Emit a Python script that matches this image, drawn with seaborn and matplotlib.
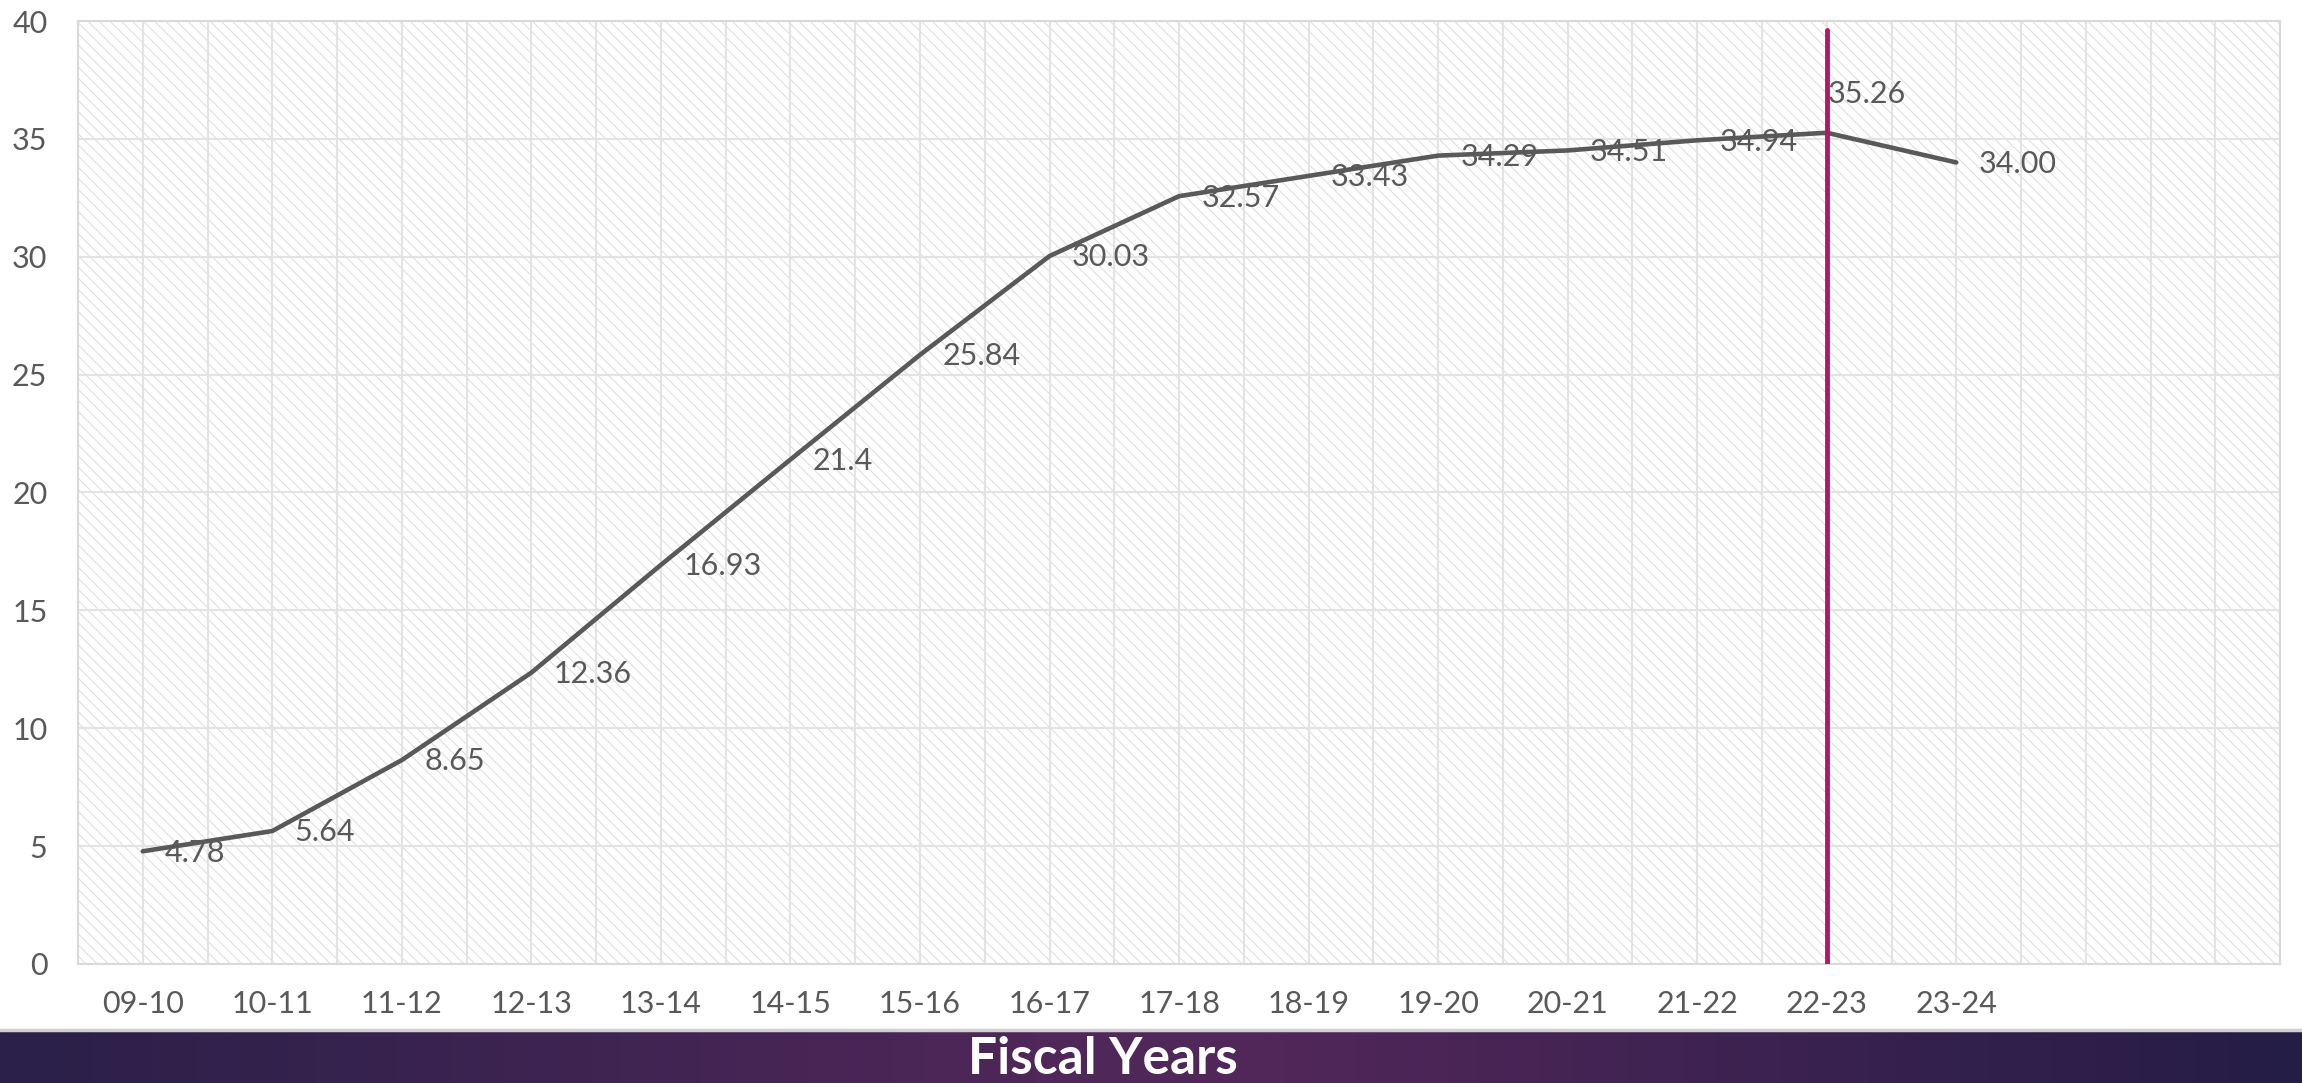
import matplotlib
matplotlib.use("Agg")
from matplotlib import pyplot as plt
from matplotlib.colors import LinearSegmentedColormap
from matplotlib.patches import Rectangle
import numpy as np
import pandas as pd
import seaborn as sns

# chart data
years = ['09-10', '10-11', '11-12', '12-13', '13-14', '14-15', '15-16', '16-17',
         '17-18', '18-19', '19-20', '20-21', '21-22', '22-23', '23-24']
values = [4.78, 5.64, 8.65, 12.36, 16.93, 21.4, 25.84, 30.03,
          32.57, 33.43, 34.29, 34.51, 34.94, 35.26, 34.00]
value_labels = ['4.78', '5.64', '8.65', '12.36', '16.93', '21.4', '25.84', '30.03',
                '32.57', '33.43', '34.29', '34.51', '34.94', '35.26', '34.00']
marker_year = '22-23'
n_slots = 17
y_ticks = [0, 5, 10, 15, 20, 25, 30, 35, 40]

df = pd.DataFrame({'year': years, 'value': values})
df['pos'] = np.arange(len(years))

sns.set_style('white')
plt.rcParams['font.family'] = ['Lato', 'DejaVu Sans']
plt.rcParams['hatch.linewidth'] = 0.7
plt.rcParams['hatch.color'] = '#dcdcdc'

text_grey = '#595959'
fig = plt.figure(figsize=(23.02, 10.83), dpi=100)
ax = fig.add_axes([0.0339, 0.1099, 0.9566, 0.8707])

# hatched plot background
ax.add_patch(Rectangle((0, 0), 1, 1, transform=ax.transAxes, facecolor='white',
                       edgecolor='#dcdcdc', hatch='\\\\\\', linewidth=0, zorder=0))

sns.lineplot(data=df, x='pos', y='value', color='#595959', linewidth=3.3, ax=ax,
             zorder=3)

ax.set_xlim(-0.5, n_slots - 0.5)
ax.set_ylim(0, 40)
ax.set_yticks(y_ticks)
ax.set_xticks(np.arange(n_slots))
ax.set_xticklabels(years + [''] * (n_slots - len(years)))
ax.set_xticks(np.arange(n_slots + 1) - 0.5, minor=True)
ax.grid(True, which='both', color='#e3e3e3', linewidth=1.5, zorder=1)
ax.set_axisbelow(True)
ax.tick_params(axis='both', which='both', length=0, labelsize=22, colors=text_grey)
ax.tick_params(axis='y', pad=22)
ax.tick_params(axis='x', pad=19)
ax.set_xlabel('')
ax.set_ylabel('')
for s in ax.spines.values():
    s.set_color('#d9d9d9')
    s.set_linewidth(1.5)

# marker line for the current year
mpos = years.index(marker_year)
ax.plot([mpos, mpos], [0, 39.6], color='#b8146a', linewidth=3.5, zorder=4,
        solid_capstyle='round')

# data labels
for i, (v, lab) in enumerate(zip(values, value_labels)):
    if years[i] == marker_year:
        ax.annotate(lab, (i, v), xytext=(1, 28), textcoords='offset points',
                    ha='left', va='center', fontsize=22, color=text_grey, zorder=5)
    else:
        ax.annotate(lab, (i, v), xytext=(16, -1), textcoords='offset points',
                    ha='left', va='center', fontsize=22, color=text_grey, zorder=5)

# bottom banner with gradient
bax = fig.add_axes([0, 0, 1, 0.048])
cmap = LinearSegmentedColormap.from_list(
    'banner', [(0, '#2a2049'), (0.45, '#4f2759'), (0.55, '#52275a'), (1, '#241d46')])
bax.imshow(np.linspace(0, 1, 512).reshape(1, -1), cmap=cmap, aspect='auto',
           extent=[0, 1, 0, 1])
bax.set_xlim(0, 1)
bax.set_ylim(0, 1)
bax.axis('off')
bax.text(0.479, 0.45, 'Fiscal Years', ha='center', va='center', color='white',
         fontsize=37, fontweight='bold')
fig.add_artist(plt.Line2D([0, 1], [0.049, 0.049], transform=fig.transFigure,
                          color='#d0d0d0', linewidth=2.5))

fig.savefig('out.png', dpi=100)
